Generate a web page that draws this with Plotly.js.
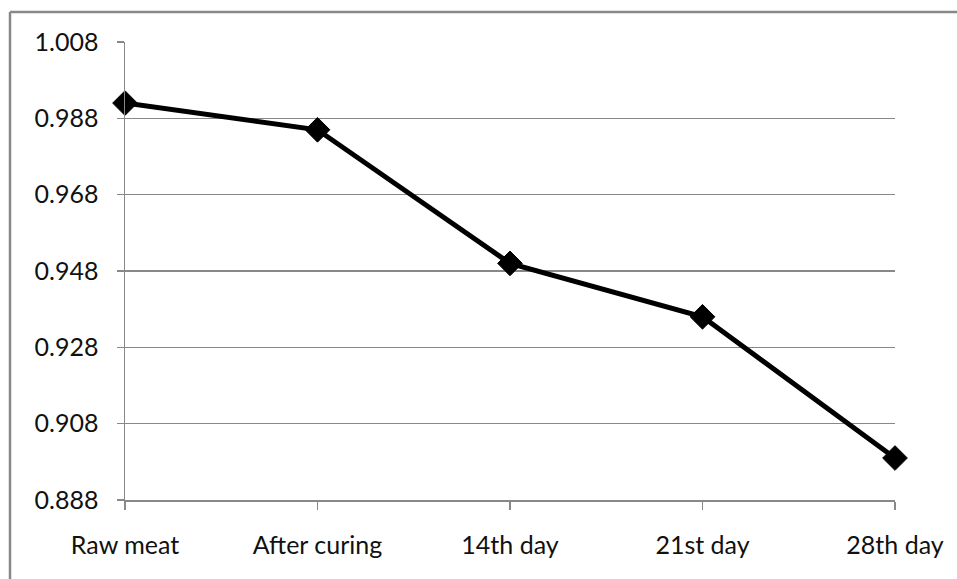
<!DOCTYPE html>
<html>
<head>
<meta charset="utf-8">
<script src="https://cdn.plot.ly/plotly-3.0.1.min.js"></script>
<style>
html,body{margin:0;padding:0;background:#fff;}
#chart{width:957px;height:579px;}
</style>
</head>
<body>
<div id="chart"></div>
<script>
const categories = ["Raw meat", "After curing", "14th day", "21st day", "28th day"];
const values = [0.992, 0.985, 0.950, 0.936, 0.899];
const yTickValues = [0.888, 0.908, 0.928, 0.948, 0.968, 0.988, 1.008];

const trace = {
  x: categories,
  y: values,
  type: "scatter",
  mode: "lines+markers",
  line: {color: "#000000", width: 5},
  marker: {symbol: "diamond", size: 19, color: "#000000", line: {color: "#000000", width: 1}},
  cliponaxis: false,
  hoverinfo: "skip"
};

const gray = "#888888";
const layout = {
  width: 957,
  height: 579,
  paper_bgcolor: "#ffffff",
  plot_bgcolor: "#ffffff",
  showlegend: false,
  margin: {l: 125, r: 62, t: 42, b: 79, pad: 0},
  font: {family: "Lato, 'Liberation Sans', sans-serif", size: 25, color: "#111111"},
  xaxis: {
    type: "category",
    range: [0, 4],
    showgrid: false,
    showline: true,
    linecolor: gray,
    linewidth: 1.5,
    ticks: "outside",
    ticklen: 8,
    tickcolor: gray,
    tickwidth: 1.5,
    tickfont: {size: 25},
    ticklabelstandoff: 14,
    zeroline: false,
    fixedrange: true
  },
  yaxis: {
    range: [0.888, 1.008],
    tickvals: yTickValues,
    tickformat: ".3f",
    showgrid: true,
    gridcolor: gray,
    gridwidth: 1.5,
    showline: true,
    linecolor: gray,
    linewidth: 1.5,
    ticks: "outside",
    ticklen: 7,
    tickcolor: gray,
    tickwidth: 1.5,
    tickfont: {size: 25},
    ticklabelstandoff: 13,
    zeroline: false,
    fixedrange: true
  },
  shapes: [
    {type: "line", xref: "paper", yref: "paper", x0: (10-125)/770, x1: (960-125)/770, y0: (500-12)/458, y1: (500-12)/458, line: {color: gray, width: 2.5}, layer: "below"},
    {type: "line", xref: "paper", yref: "paper", x0: (10-125)/770, x1: (10-125)/770, y0: (500-12)/458, y1: (500-585)/458, line: {color: gray, width: 2.5}, layer: "below"}
  ]
};

Plotly.newPlot("chart", [trace], layout, {displayModeBar: false, staticPlot: true});
</script>
</body>
</html>
